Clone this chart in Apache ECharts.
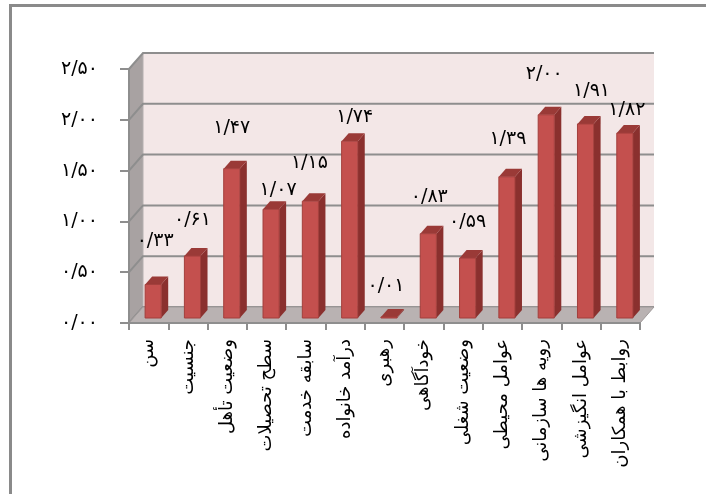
<!DOCTYPE html>
<html>
<head>
<meta charset="utf-8">
<script src="https://cdn.jsdelivr.net/npm/echarts@6/dist/echarts.min.js"></script>
<style>
  html, body { margin: 0; padding: 0; background: #fff; }
  #chart { width: 706px; height: 494px; }
</style>
</head>
<body>
<div id="chart"></div>
<script>
// Mean scores per factor
const categories = [
  'سن', 'جنسیت', 'وضعیت تأهل', 'سطح تحصیلات', 'سابقه خدمت', 'درآمد خانواده',
  'رهبری', 'خودآگاهی', 'وضعیت شغلی', 'عوامل محیطی', 'رویه ها سازمانی',
  'عوامل انگیزشی', 'روابط با همکاران'
];
const values = [0.33, 0.61, 1.47, 1.07, 1.15, 1.74, 0.01, 0.83, 0.59, 1.39, 2.00, 1.91, 1.82];
const yTickLabels = ['۰/۰۰', '۰/۵۰', '۱/۰۰', '۱/۵۰', '۲/۰۰', '۲/۵۰'];

// Hand-placed value label nudges (dx, dy from the top of each bar's front face)
const labelNudge = [
  [2, -43], [0, -36], [0, -41], [7, -19], [-1, -38], [5, -24], [-3, -31],
  [1, -37], [0, -36], [1, -38], [-2, -41], [6, -33], [2, -23]
];

// 3D look: depth of the chart box, and offset/depth of the bars inside it
const WALL_DX = 14, WALL_DY = -16;
const BAR_OX = 4.5, BAR_OY = -5;
const BAR_DX = 7, BAR_DY = -8;
const FONT = '"DejaVu Sans", sans-serif';

const persianDigits = '۰۱۲۳۴۵۶۷۸۹';
function toPersian(v) {
  return v.toFixed(2).replace('.', '/').replace(/[0-9]/g, d => persianDigits[+d]);
}

const chart = echarts.init(document.getElementById('chart'), null, { renderer: 'canvas' });

function renderBox(params, api) {
  const cs = params.coordSys;
  const gx = cs.x, gy = cs.y, gw = cs.width, gh = cs.height;
  const children = [];
  // back wall
  children.push({
    type: 'rect',
    shape: { x: gx + WALL_DX, y: gy + WALL_DY, width: gw, height: gh },
    style: { fill: '#f3e7e7' }
  });
  // left wall
  children.push({
    type: 'polygon',
    shape: { points: [[gx, gy], [gx + WALL_DX, gy + WALL_DY], [gx + WALL_DX, gy + gh + WALL_DY], [gx, gy + gh]] },
    style: { fill: '#a8a2a2', stroke: '#b5b0b0', lineWidth: 1 }
  });
  // grid lines on back and left walls
  for (let k = 0; k < yTickLabels.length; k++) {
    const y = api.coord([0, k * 0.5])[1];
    children.push({
      type: 'polyline',
      shape: { points: [[gx, y], [gx + WALL_DX, y + WALL_DY], [gx + gw + WALL_DX, y + WALL_DY]] },
      style: { stroke: '#8e8e8e', lineWidth: 2, fill: null }
    });
  }
  // floor
  children.push({
    type: 'polygon',
    shape: { points: [[gx, gy + gh], [gx + WALL_DX, gy + gh + WALL_DY], [gx + gw + WALL_DX, gy + gh + WALL_DY], [gx + gw, gy + gh]] },
    style: { fill: '#b9b2b2', stroke: '#a09a9a', lineWidth: 1 }
  });
  return { type: 'group', children: children };
}

function renderBar(params, api) {
  const i = api.value(0), v = api.value(1);
  const base = api.coord([i, 0]);
  const top = api.coord([i, v]);
  const band = api.size([1, 0])[0];
  const w = band * 0.41;
  const cx = base[0] + BAR_OX;
  const x0 = cx - w / 2, x1 = cx + w / 2;
  const yb = base[1] + BAR_OY;
  const yt = top[1] + BAR_OY;
  const nudge = labelNudge[i];
  return {
    type: 'group',
    children: [
      {
        type: 'polygon',
        shape: { points: [[x1, yb], [x1 + BAR_DX, yb + BAR_DY], [x1 + BAR_DX, yt + BAR_DY], [x1, yt]] },
        style: { fill: '#8a302e' }
      },
      {
        type: 'polygon',
        shape: { points: [[x0, yt], [x0 + BAR_DX, yt + BAR_DY], [x1 + BAR_DX, yt + BAR_DY], [x1, yt]] },
        style: { fill: '#9a3a37' }
      },
      {
        type: 'rect',
        shape: { x: x0, y: yt, width: w, height: yb - yt },
        style: { fill: '#c4504e', stroke: '#a33f3c', lineWidth: 1 }
      },
      {
        type: 'text',
        style: {
          x: cx + nudge[0], y: yt + nudge[1],
          text: toPersian(v),
          font: '19px ' + FONT,
          fill: '#000',
          align: 'center', verticalAlign: 'middle'
        }
      }
    ]
  };
}

chart.setOption({
  animation: false,
  backgroundColor: '#fff',
  graphic: [{
    type: 'rect',
    shape: { x: 10.5, y: 5.5, width: 720, height: 520 },
    style: { fill: null, stroke: '#8a8a8a', lineWidth: 3 },
    z: 100
  }],
  grid: { left: 129, right: 66, top: 69, bottom: 171 },
  xAxis: {
    type: 'category',
    data: categories,
    z: 10,
    axisLine: { lineStyle: { color: '#8e8e8e', width: 2 } },
    axisTick: { show: true, length: 7, lineStyle: { color: '#8e8e8e', width: 2 } },
    axisLabel: {
      rotate: 90, interval: 0, margin: 16,
      padding: [0, 0, 14, 0],
      fontFamily: FONT, fontSize: 18, color: '#000'
    },
    splitLine: { show: false }
  },
  yAxis: {
    type: 'value',
    min: 0, max: 2.5, interval: 0.5,
    z: 10,
    axisLine: { show: true, lineStyle: { color: '#8e8e8e', width: 2 } },
    axisTick: { show: true, length: 9, lineStyle: { color: '#8e8e8e', width: 2 } },
    axisLabel: {
      margin: 31, fontFamily: FONT, fontSize: 19, color: '#000',
      formatter: v => yTickLabels[Math.round(v / 0.5)]
    },
    splitLine: { show: false }
  },
  series: [
    {
      type: 'custom',
      z: 1,
      clip: false,
      silent: true,
      renderItem: renderBox,
      data: [[0, 0]],
      encode: { x: 0, y: 1 }
    },
    {
      type: 'custom',
      z: 2,
      clip: false,
      renderItem: renderBar,
      data: values.map((v, i) => [i, v]),
      encode: { x: 0, y: 1 }
    }
  ]
});
</script>
</body>
</html>
